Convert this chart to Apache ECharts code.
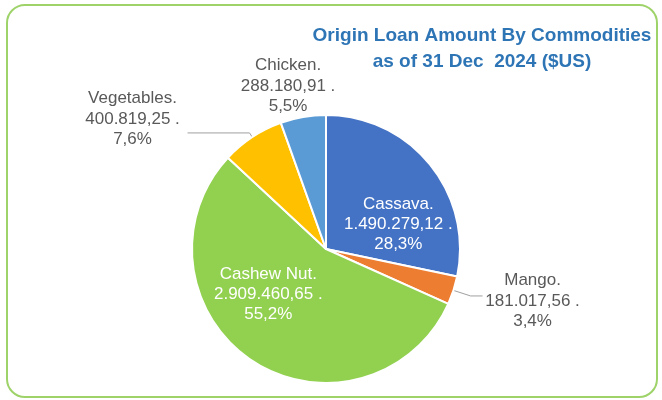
<!DOCTYPE html>
<html>
<head>
<meta charset="utf-8">
<script src="https://cdn.jsdelivr.net/npm/echarts@6/dist/echarts.min.js"></script>
<style>
html,body{margin:0;padding:0;background:#fff;}
#chart{width:662px;height:400px;}
</style>
</head>
<body>
<div id="chart"></div>
<script>
var categories = ['Cassava', 'Mango', 'Cashew Nut', 'Vegetables', 'Chicken'];
var values = [1490279.12, 181017.56, 2909460.65, 400819.25, 288180.91];
var percentLabels = ['28,3%', '3,4%', '55,2%', '7,6%', '5,5%'];
var titleLines = ['Origin Loan Amount By Commodities', 'as of 31 Dec  2024 ($US)'];

var colors = ['#4472C4', '#ED7D31', '#92D050', '#FFC000', '#5B9BD5'];
var insideSet = { 'Cassava': true, 'Cashew Nut': true };
var labelShift = {
  'Cassava': [18, 19],
  'Cashew Nut': [-19, -13],
  'Mango': [-10, 5],
  'Vegetables': [5, -14],
  'Chicken': [46, -25]
};

function fmt(v) {
  var parts = v.toFixed(2).split('.');
  var intPart = parts[0].replace(/\B(?=(\d{3})+(?!\d))/g, '.');
  return intPart + ',' + parts[1] + ' .';
}

var chart = echarts.init(document.getElementById('chart'));

var data = categories.map(function (c, i) {
  var inside = !!insideSet[c];
  var item = {
    name: c,
    value: values[i],
    itemStyle: { color: colors[i] },
    label: {
      position: inside ? 'inside' : 'outside',
      color: inside ? '#ffffff' : '#595959',
      formatter: inside
        ? c + '.\n' + fmt(values[i]) + '\n' + percentLabels[i]
        : '{a|' + c + '.}\n{a|' + fmt(values[i]) + '}\n{a|' + percentLabels[i] + '}'
    }
  };
  if (c === 'Mango') {
    item.labelLine = { show: true, length: 18, length2: 12 };
  } else if (c === 'Vegetables') {
    item.labelLine = { show: true, length: 5, length2: 62 };
  } else if (c === 'Chicken') {
    item.labelLine = { show: false, length: 6, length2: 0 };
  }
  return item;
});

chart.setOption({
  animation: false,
  backgroundColor: '#ffffff',
  graphic: [{
    type: 'rect',
    shape: { x: 7, y: 5, width: 650, height: 392, r: 18 },
    style: { fill: 'none', stroke: '#9ED36A', lineWidth: 2 },
    z: 0
  }],
  title: {
    text: titleLines.join('\n'),
    left: 477,
    top: 18,
    textAlign: 'center',
    textStyle: {
      fontFamily: 'Liberation Sans, Arial, sans-serif',
      fontSize: 19,
      fontWeight: 'bold',
      color: '#2E75B6',
      lineHeight: 26,
      align: 'center'
    }
  },
  series: [{
    type: 'pie',
    center: [326, 249],
    radius: 134,
    startAngle: 90,
    clockwise: true,
    avoidLabelOverlap: false,
    itemStyle: { borderColor: '#ffffff', borderWidth: 2 },
    label: {
      fontFamily: 'Liberation Sans, Arial, sans-serif',
      fontSize: 17,
      lineHeight: 20,
      rich: {
        a: {
          fontFamily: 'Liberation Sans, Arial, sans-serif',
          fontSize: 17,
          lineHeight: 20.5,
          color: '#595959',
          width: 110,
          align: 'center'
        }
      }
    },
    labelLine: {
      lineStyle: { color: '#A0A0A0', width: 1 },
      smooth: false
    },
    labelLayout: function (params) {
      var name = categories[params.dataIndex];
      var s = labelShift[name] || [0, 0];
      return { dx: s[0], dy: s[1] };
    },
    data: data
  }]
});
</script>
</body>
</html>
